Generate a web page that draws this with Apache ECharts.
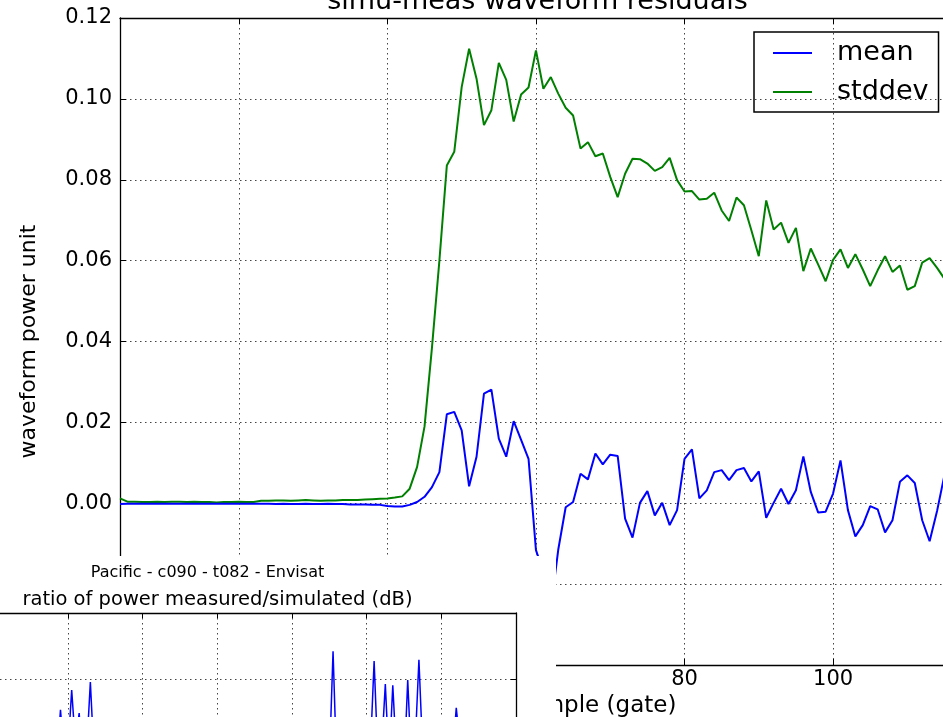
<!DOCTYPE html>
<html>
<head>
<meta charset="utf-8">
<script src="https://cdn.jsdelivr.net/npm/echarts@6/dist/echarts.min.js"></script>
<style>html,body{margin:0;padding:0;background:#fff}#c{width:943px;height:717px}</style>
</head>
<body>
<div id="c"></div>
<script>
// ---- main chart data (gate 4 .. 116) ----
var firstGate = 4;
var meanVals = [
 -0.0002,-0.0001,-0.0001,-0.0001,-0.0001,-0.0001,-0.0001,-0.0001,-0.0001,-0.0001,
 -0.0001,-0.0001,-0.0001,-0.0001,-0.0001,-0.0001,-0.0001,-0.0001,-0.0001,-0.0001,
 -0.0001,-0.0002,-0.0001,-0.0002,-0.0002,-0.0001,-0.0002,-0.0002,-0.0001,-0.0002,
 -0.0002,-0.0003,-0.0003,-0.0003,-0.0004,-0.0004,-0.0007,-0.0008,-0.0008,-0.0004,
 0.0003,0.0016,0.0040,0.0077,0.0220,0.0226,0.0180,0.0042,0.0115,0.0271,
 0.0281,0.0160,0.0115,0.0203,0.0157,0.0110,-0.0116,-0.0170,-0.0260,-0.0115,
 -0.0010,0.0003,0.0073,0.0059,0.0123,0.0096,0.0120,0.0117,-0.0038,-0.0085,
 0.0001,0.0030,-0.0030,0.0001,-0.0054,-0.0017,0.0110,0.0133,0.0012,0.0032,
 0.0077,0.0082,0.0057,0.0082,0.0087,0.0054,0.0079,-0.0036,0.0001,0.0036,
 -0.0002,0.0032,0.0116,0.0028,-0.0023,-0.0021,0.0024,0.0106,-0.0017,-0.0082,
 -0.0054,-0.0007,-0.0015,-0.0072,-0.0042,0.0053,0.0069,0.0050,-0.0042,-0.0094,
 -0.0019,0.0070,0.0055
];
var stdVals = [
 0.0012,0.0004,0.0004,0.0003,0.0003,0.0004,0.0003,0.0004,0.0004,0.0003,
 0.0004,0.0003,0.0003,0.0002,0.0003,0.0003,0.0004,0.0003,0.0003,0.0006,
 0.0006,0.0007,0.0007,0.0006,0.0007,0.0008,0.0007,0.0006,0.0007,0.0007,
 0.0008,0.0008,0.0008,0.0009,0.0010,0.0011,0.0012,0.0014,0.0017,0.0036,
 0.0090,0.0190,0.0385,0.0600,0.0835,0.0869,0.1029,0.1124,0.1050,0.0935,
 0.0972,0.1089,0.1047,0.0944,0.1011,0.1028,0.1120,0.1025,0.1054,0.1013,
 0.0978,0.0959,0.0877,0.0893,0.0858,0.0865,0.0807,0.0757,0.0815,0.0852,
 0.0851,0.0840,0.0822,0.0831,0.0854,0.0799,0.0771,0.0772,0.0751,0.0753,
 0.0768,0.0724,0.0698,0.0756,0.0737,0.0675,0.0611,0.0749,0.0677,0.0694,
 0.0644,0.0681,0.0574,0.0630,0.0590,0.0549,0.0602,0.0628,0.0582,0.0616,
 0.0578,0.0537,0.0576,0.0611,0.0572,0.0588,0.0528,0.0537,0.0595,0.0606,
 0.0582,0.0555,0.0560
];
var xTicks = [20, 40, 60, 80, 100];
var seriesNames = ['mean', 'stddev'];

// ---- inset (ratio of power measured/simulated, dB) ----
var insetX = [0,17,18,19,20,21,22,23,24,25,26,27,60,90,91,92,101,102,103,104,105,106,107,108,110,111,112,113,114,115,116,123,124,125,140];
var insetY = [0.6,0.7,1.53,0.8,0.9,1.83,1.0,1.48,0.7,0.9,1.95,0.8,0.5,0.7,2.42,0.6,0.9,2.27,0.8,0.9,1.92,0.7,1.9,0.8,0.6,1.98,0.7,1.0,2.29,0.9,1.2,0.8,1.56,1.0,0.6];
var insetXTicks = [20, 40, 60, 80, 100, 120];
var insetYTicks = [2];

var gates = meanVals.map(function (v, i) { return firstGate + i; });
var FONT = 'DejaVu Sans';
var gridLine = {type: [1.5, 3.5], color: '#444', width: 1};
var spine = {show: true, onZero: false, lineStyle: {color: '#000', width: 1.3}};

var chart = echarts.init(document.getElementById('c'), null, {renderer: 'canvas'});
chart.setOption({
  animation: false,
  backgroundColor: '#fff',
  title: {
    text: 'simu-meas waveform residuals',
    left: 532.5, textAlign: 'center', top: -17,
    textStyle: {fontFamily: FONT, fontSize: 27, fontWeight: 'normal', color: '#000'}
  },
  legend: {
    data: [{name: seriesNames[0], icon: 'rect'}, {name: seriesNames[1], icon: 'rect'}],
    orient: 'vertical', left: 754, top: 32,
    padding: [6, 10, 5, 19],
    itemGap: 9, itemWidth: 39, itemHeight: 2,
    borderColor: '#000', borderWidth: 1.5, borderRadius: 0,
    textStyle: {fontFamily: FONT, fontSize: 27, lineHeight: 30, color: '#000', padding: [0, 0, 0, 20]}
  },
  grid: [
    {left: 120, top: 18, width: 823, height: 647, show: false, containLabel: false, outerBoundsMode: 'none'},
    {left: 0, top: 613, width: 516, height: 104, show: false, zlevel: 2, containLabel: false, outerBoundsMode: 'none'}
  ],
  xAxis: [
    {type: 'value', gridIndex: 0, min: firstGate, max: 114.8,
     name: 'sample (gate)', nameLocation: 'middle', nameGap: 26,
     nameTextStyle: {fontFamily: FONT, fontSize: 23, color: '#000', padding: [0, 0, 0, 129]},
     axisLine: spine,
     axisTick: {show: true, inside: true, length: 6, customValues: xTicks, lineStyle: {color: '#000'}},
     axisLabel: {customValues: xTicks, fontFamily: FONT, fontSize: 21, color: '#000', margin: 4},
     splitLine: {show: true, lineStyle: gridLine}},
    {type: 'value', gridIndex: 0, position: 'top', min: firstGate, max: 114.8,
     axisLine: spine,
     axisTick: {show: true, inside: true, length: 6, customValues: xTicks, lineStyle: {color: '#000'}},
     axisLabel: {show: false}, splitLine: {show: false}},
    {type: 'value', gridIndex: 1, position: 'top', min: 1.8, max: 140, zlevel: 2,
     axisLine: spine,
     axisTick: {show: true, inside: true, length: 5, customValues: insetXTicks, lineStyle: {color: '#000'}},
     axisLabel: {show: false},
     splitLine: {show: true, lineStyle: gridLine}}
  ],
  yAxis: [
    {type: 'value', gridIndex: 0, min: -0.04, max: 0.12, interval: 0.02,
     name: 'waveform power unit', nameLocation: 'middle', nameGap: 80,
     nameTextStyle: {fontFamily: FONT, fontSize: 22, color: '#000'},
     axisLine: spine,
     axisTick: {show: true, inside: true, length: 6, lineStyle: {color: '#000'}},
     axisLabel: {fontFamily: FONT, fontSize: 21, color: '#000', margin: 8,
       formatter: function (v) { return v.toFixed(2); }},
     splitLine: {show: true, lineStyle: gridLine}},
    {type: 'value', gridIndex: 1, min: 1.42, max: 3, zlevel: 2,
     axisLine: {show: false},
     axisTick: {show: false, customValues: insetYTicks},
     axisLabel: {show: false},
     splitLine: {show: true, lineStyle: gridLine}},
    {type: 'value', gridIndex: 1, position: 'right', min: 1.42, max: 3, zlevel: 2,
     axisLine: spine,
     axisTick: {show: true, inside: true, length: 5, customValues: insetYTicks, lineStyle: {color: '#000'}},
     axisLabel: {show: false}, splitLine: {show: false}}
  ],
  series: [
    {name: seriesNames[0], type: 'line', xAxisIndex: 0, yAxisIndex: 0, symbol: 'none', showSymbol: false,
     data: gates.map(function (g, i) { return [g, meanVals[i]]; }),
     lineStyle: {color: '#0000ff', width: 2}, itemStyle: {color: '#0000ff'}, z: 3},
    {name: seriesNames[1], type: 'line', xAxisIndex: 0, yAxisIndex: 0, symbol: 'none', showSymbol: false,
     data: gates.map(function (g, i) { return [g, stdVals[i]]; }),
     lineStyle: {color: '#008000', width: 2}, itemStyle: {color: '#008000'}, z: 2},
    {name: 'ratio', type: 'line', xAxisIndex: 2, yAxisIndex: 1, symbol: 'none', showSymbol: false, zlevel: 2,
     data: insetX.map(function (x, i) { return [x, insetY[i]]; }),
     lineStyle: {color: '#0000ff', width: 1.5}, itemStyle: {color: '#0000ff'}}
  ],
  graphic: [
    {type: 'rect', zlevel: 1, z: 0, shape: {x: 0, y: 556, width: 556, height: 161}, style: {fill: '#fff'}, silent: true},
    {type: 'text', zlevel: 2, z: 10, x: 207.5, y: 573,
     style: {text: 'Pacific - c090 - t082 - Envisat', fontFamily: FONT, fontSize: 16, fill: '#000', align: 'center', verticalAlign: 'middle'}},
    {type: 'text', zlevel: 2, z: 10, x: 217.5, y: 600,
     style: {text: 'ratio of power measured/simulated (dB)', fontFamily: FONT, fontSize: 19.5, fill: '#000', align: 'center', verticalAlign: 'middle'}}
  ]
});
</script>
</body>
</html>
